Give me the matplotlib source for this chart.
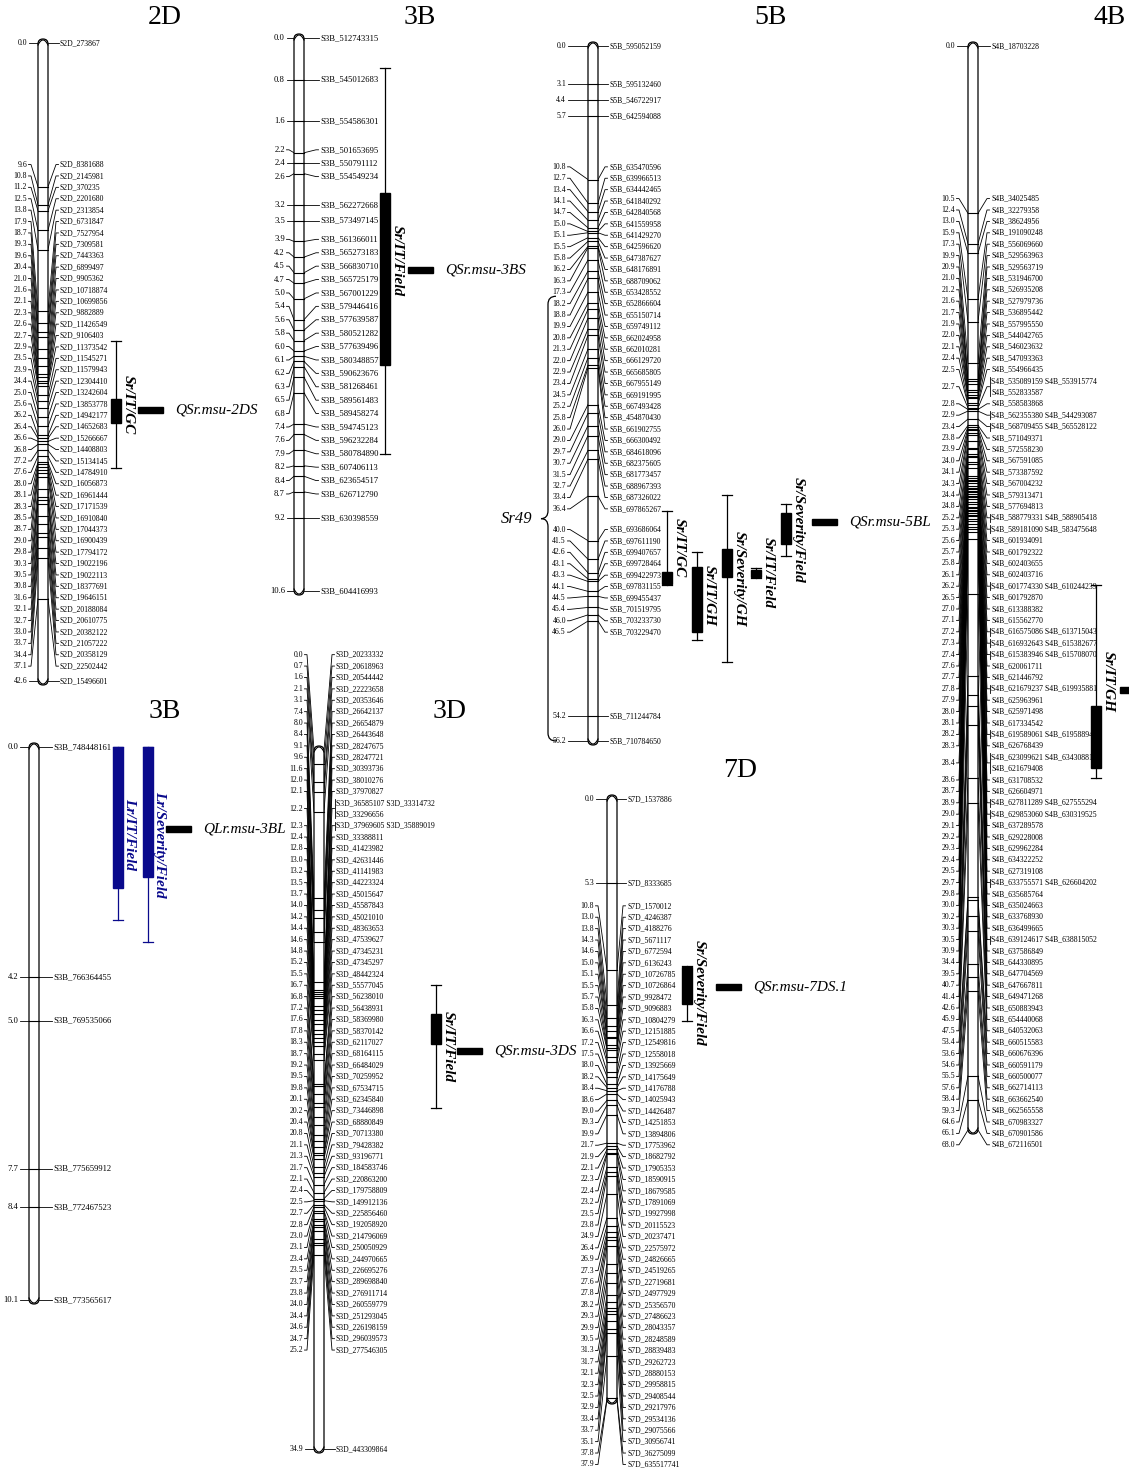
import matplotlib
matplotlib.use("Agg")
import matplotlib.pyplot as plt
from matplotlib.patches import FancyBboxPatch, Rectangle, PathPatch
from matplotlib.path import Path
import numpy as np

plt.rcParams['font.family'] = ['Liberation Serif', 'DejaVu Serif']

# ---------------- data (cM positions, marker names) ----------------
pos_2D = [0.0, 9.6, 10.8, 11.2, 12.5, 13.8, 17.9, 18.7, 19.3, 19.6, 20.4, 21.0, 21.6, 22.1, 22.3,
          22.6, 22.7, 22.9, 23.5, 23.9, 24.4, 25.0, 25.6, 26.2, 26.4, 26.6, 26.8, 27.2, 27.6, 28.0,
          28.1, 28.3, 28.5, 28.7, 29.0, 29.8, 30.3, 30.5, 30.8, 31.6, 32.1, 32.7, 33.0, 33.7, 34.4,
          37.1, 42.6]
mk_2D = ["S2D_273867", "S2D_8381688", "S2D_2145981", "S2D_370235", "S2D_2201680", "S2D_2313854",
         "S2D_6731847", "S2D_7527954", "S2D_7309581", "S2D_7443363", "S2D_6899497", "S2D_9905362",
         "S2D_10718874", "S2D_10699856", "S2D_9882889", "S2D_11426549", "S2D_9106403",
         "S2D_11373542", "S2D_11545271", "S2D_11579943", "S2D_12304410", "S2D_13242604",
         "S2D_13853778", "S2D_14942177", "S2D_14652683", "S2D_15266667", "S2D_14408803",
         "S2D_15134145", "S2D_14784910", "S2D_16056873", "S2D_16961444", "S2D_17171539",
         "S2D_16910840", "S2D_17044373", "S2D_16900439", "S2D_17794172", "S2D_19022196",
         "S2D_19022113", "S2D_18377691", "S2D_19646151", "S2D_20188084", "S2D_20610775",
         "S2D_20382122", "S2D_21057222", "S2D_20358129", "S2D_22502442", "S2D_15496601"]

pos_3BS = [0.0, 0.8, 1.6, 2.2, 2.4, 2.6, 3.2, 3.5, 3.9, 4.2, 4.5, 4.7, 5.0, 5.4, 5.6, 5.8, 6.0,
           6.1, 6.2, 6.3, 6.5, 6.8, 7.4, 7.6, 7.9, 8.2, 8.4, 8.7, 9.2, 10.6]
mk_3BS = ["S3B_512743315", "S3B_545012683", "S3B_554586301", "S3B_501653695", "S3B_550791112",
          "S3B_554549234", "S3B_562272668", "S3B_573497145", "S3B_561366011", "S3B_565273183",
          "S3B_566830710", "S3B_565725179", "S3B_567001229", "S3B_579446416", "S3B_577639587",
          "S3B_580521282", "S3B_577639496", "S3B_580348857", "S3B_590623676", "S3B_581268461",
          "S3B_589561483", "S3B_589458274", "S3B_594745123", "S3B_596232284", "S3B_580784890",
          "S3B_607406113", "S3B_623654517", "S3B_626712790", "S3B_630398559", "S3B_604416993"]

pos_5B = [0.0, 3.1, 4.4, 5.7, 10.8, 12.7, 13.4, 14.1, 14.7, 15.0, 15.1, 15.5, 15.8, 16.2, 16.3,
          17.3, 18.2, 18.8, 19.9, 20.8, 21.3, 22.0, 22.9, 23.4, 24.5, 25.2, 25.8, 26.0, 29.0, 29.7,
          30.7, 31.5, 32.7, 33.4, 36.4, 40.0, 41.5, 42.6, 43.1, 43.3, 44.1, 44.5, 45.4, 46.0, 46.5,
          54.2, 56.2]
mk_5B = ["S5B_595052159", "S5B_595132460", "S5B_546722917", "S5B_642594088", "S5B_635470596",
         "S5B_639966513", "S5B_634442465", "S5B_641840292", "S5B_642840568", "S5B_641559958",
         "S5B_641429270", "S5B_642596620", "S5B_647387627", "S5B_648176891", "S5B_688709062",
         "S5B_653428552", "S5B_652866604", "S5B_655150714", "S5B_659749112", "S5B_662024958",
         "S5B_662010281", "S5B_666129720", "S5B_665685805", "S5B_667955149", "S5B_669191995",
         "S5B_667493428", "S5B_454870430", "S5B_661902755", "S5B_666300492", "S5B_684618096",
         "S5B_682375605", "S5B_681773457", "S5B_688967393", "S5B_687326022", "S5B_697865267",
         "S5B_693686064", "S5B_697611190", "S5B_699407657", "S5B_699728464", "S5B_699422973",
         "S5B_697831155", "S5B_699455437", "S5B_701519795", "S5B_703233730", "S5B_703229470",
         "S5B_711244784", "S5B_710784650"]

pos_4B = [0.0, 10.5, 12.4, 13.0, 15.9, 17.3, 19.9, 20.9, 21.0, 21.2, 21.6, 21.7, 21.9, 22.0, 22.1,
          22.4, 22.5, 22.7, 22.8, 22.9, 23.4, 23.8, 23.9, 24.0, 24.1, 24.3, 24.4, 24.8, 25.2, 25.3,
          25.6, 25.7, 25.8, 26.1, 26.2, 26.5, 27.0, 27.1, 27.2, 27.3, 27.4, 27.6, 27.7, 27.8, 27.9,
          28.0, 28.1, 28.2, 28.3, 28.4, 28.6, 28.7, 28.9, 29.0, 29.1, 29.2, 29.3, 29.4, 29.5, 29.7,
          29.8, 30.0, 30.2, 30.3, 30.5, 30.9, 34.4, 39.5, 40.7, 41.4, 42.6, 45.9, 47.5, 53.4, 53.6,
          54.6, 55.5, 57.6, 58.4, 59.3, 64.6, 66.1, 68.0]
mk_4B = ["S4B_18703228", "S4B_34025485", "S4B_32279358", "S4B_38624956", "S4B_191090248",
         "S4B_556069660", "S4B_529563963", "S4B_529563719", "S4B_531946700", "S4B_526935208",
         "S4B_527979736", "S4B_536895442", "S4B_557995550", "S4B_544042765", "S4B_546023632",
         "S4B_547093363", "S4B_554966435", "S4B_535089159 S4B_553915774;S4B_552833587",
         "S4B_558583868", "S4B_562355380 S4B_544293087", "S4B_568709455 S4B_565528122",
         "S4B_571049371", "S4B_572558230", "S4B_567591085", "S4B_573387592", "S4B_567004232",
         "S4B_579313471", "S4B_577694813", "S4B_588779331 S4B_588905418",
         "S4B_589181090 S4B_583475648", "S4B_601934091", "S4B_601792322", "S4B_602403655",
         "S4B_602403716", "S4B_601774330 S4B_610244239", "S4B_601792870", "S4B_613388382",
         "S4B_615562770", "S4B_616575086 S4B_613715043", "S4B_616932643 S4B_615382677",
         "S4B_615383946 S4B_615708070", "S4B_620061711", "S4B_621446792",
         "S4B_621679237 S4B_619935881", "S4B_625963961", "S4B_625971498", "S4B_617334542",
         "S4B_619589061 S4B_619588944", "S4B_626768439",
         "S4B_623099621 S4B_634308810;S4B_621679408", "S4B_631708532", "S4B_626604971",
         "S4B_627811289 S4B_627555294", "S4B_629853060 S4B_630319525", "S4B_637289578",
         "S4B_629228008", "S4B_629962284", "S4B_634322252", "S4B_627319108",
         "S4B_633755571 S4B_626604202", "S4B_635685764", "S4B_635024663", "S4B_633768930",
         "S4B_636499665", "S4B_639124617 S4B_638815052", "S4B_637586849", "S4B_644330895",
         "S4B_647704569", "S4B_647667811", "S4B_649471268", "S4B_650883943", "S4B_654440068",
         "S4B_640532063", "S4B_660515583", "S4B_660676396", "S4B_660591179", "S4B_660500077",
         "S4B_662714113", "S4B_663662540", "S4B_662565558", "S4B_670983327", "S4B_670901586",
         "S4B_672116501"]

pos_3BL = [0.0, 4.2, 5.0, 7.7, 8.4, 10.1]
mk_3BL = ["S3B_748448161", "S3B_766364455", "S3B_769535066", "S3B_775659912", "S3B_772467523",
          "S3B_773565617"]

pos_3D = [0.0, 0.7, 1.6, 2.1, 3.1, 7.4, 8.0, 8.4, 9.1, 9.6, 11.6, 12.0, 12.1, 12.2, 12.3, 12.4,
          12.8, 13.0, 13.2, 13.5, 13.7, 14.0, 14.2, 14.4, 14.6, 14.8, 15.2, 15.5, 16.7, 16.8, 17.2,
          17.6, 17.8, 18.3, 18.7, 19.2, 19.5, 19.8, 20.1, 20.2, 20.4, 20.8, 21.1, 21.3, 21.7, 22.1,
          22.4, 22.5, 22.7, 22.8, 23.0, 23.1, 23.4, 23.5, 23.7, 23.8, 24.0, 24.4, 24.6, 24.7, 25.2,
          34.9]
mk_3D = ["S3D_20233332", "S3D_20618963", "S3D_20544442", "S3D_22223658", "S3D_20353646",
         "S3D_26642137", "S3D_26654879", "S3D_26443648", "S3D_28247675", "S3D_28247721",
         "S3D_30393736", "S3D_38010276", "S3D_37970827", "S3D_36585107 S3D_33314732;S3D_33296656",
         "S3D_37969605 S3D_35889019", "S3D_33388811", "S3D_41423982", "S3D_42631446",
         "S3D_41141983", "S3D_44223324", "S3D_45015647", "S3D_45587843", "S3D_45021010",
         "S3D_48363653", "S3D_47539627", "S3D_47345231", "S3D_47345297", "S3D_48442324",
         "S3D_55577045", "S3D_56238010", "S3D_56438931", "S3D_58369980", "S3D_58370142",
         "S3D_62117027", "S3D_68164115", "S3D_66484029", "S3D_70259952", "S3D_67534715",
         "S3D_62345840", "S3D_73446898", "S3D_68880849", "S3D_70713380", "S3D_79428382",
         "S3D_93196771", "S3D_184583746", "S3D_220863200", "S3D_179758809", "S3D_149912136",
         "S3D_225856460", "S3D_192058920", "S3D_214796069", "S3D_250050929", "S3D_244970665",
         "S3D_226695276", "S3D_289698840", "S3D_276911714", "S3D_260559779", "S3D_251293045",
         "S3D_226198159", "S3D_296039573", "S3D_277546305", "S3D_443309864"]

pos_7D = [0.0, 5.3, 10.8, 13.0, 13.8, 14.3, 14.6, 15.0, 15.1, 15.5, 15.7, 15.8, 16.3, 16.6, 17.2,
          17.5, 18.0, 18.2, 18.4, 18.6, 19.0, 19.3, 19.9, 21.7, 21.9, 22.1, 22.3, 22.4, 23.2, 23.5,
          23.8, 24.9, 26.4, 26.9, 27.3, 27.6, 27.8, 28.2, 29.3, 29.9, 30.5, 31.3, 31.7, 32.1, 32.3,
          32.5, 32.9, 33.4, 33.7, 35.1, 37.8, 37.9]
mk_7D = ["S7D_1537886", "S7D_8333685", "S7D_1570012", "S7D_4246387", "S7D_4188276",
         "S7D_5671117", "S7D_6772594", "S7D_6136243", "S7D_10726785", "S7D_10726864",
         "S7D_9928472", "S7D_9096883", "S7D_10804279", "S7D_12151885", "S7D_12549816",
         "S7D_12558018", "S7D_13925669", "S7D_14175649", "S7D_14176788", "S7D_14025943",
         "S7D_14426487", "S7D_14251853", "S7D_13894806", "S7D_17753962", "S7D_18682792",
         "S7D_17905353", "S7D_18590915", "S7D_18679585", "S7D_17891069", "S7D_19927998",
         "S7D_20115523", "S7D_20237471", "S7D_22575972", "S7D_24826665", "S7D_24519265",
         "S7D_22719681", "S7D_24977929", "S7D_25356570", "S7D_27486623", "S7D_28043357",
         "S7D_28248589", "S7D_28839483", "S7D_29262723", "S7D_28880153", "S7D_29958815",
         "S7D_29408544", "S7D_29217976", "S7D_29534136", "S7D_29075566", "S7D_30956741",
         "S7D_36275099", "S7D_635517741"]

# QTL intervals in cM: (trait, whisker low, bar low, bar high, whisker high)
qtl_2D = [("Sr/IT/GC", 19.9, 23.8, 25.4, 28.4)]
qtl_3BS = [("Sr/IT/Field", 0.58, 2.97, 6.27, 7.97)]
qtl_5B = [("Sr/IT/GC", 37.6, 42.5, 43.5, 43.6),
          ("Sr/IT/GH", 40.9, 42.1, 47.4, 48.0),
          ("Sr/Severity/GH", 36.3, 40.7, 42.9, 49.8),
          ("Sr/IT/Field", 42.2, 42.4, 42.9, 43.0),
          ("Sr/Severity/Field", 37.0, 37.8, 40.3, 41.2)]
qtl_4B = [("Sr/IT/GH", 33.8, 41.4, 45.3, 45.9)]
qtl_3BL = [("Lr/IT/Field", 0.0, 0.0, 2.58, 3.16),
           ("Lr/Severity/Field", 0.0, 0.0, 2.37, 3.56)]
qtl_3D = [("Sr/IT/Field", 11.73, 13.18, 14.68, 17.87)]
qtl_7D = [("Sr/Severity/Field", 10.5, 10.6, 12.9, 14.0)]

qtl_names = ["QSr.msu-2DS", "QSr.msu-3BS", "QSr.msu-5BL", "QLr.msu-3BL", "QSr.msu-3DS",
             "QSr.msu-7DS.1"]


def spread(desired, sizes, gap, centre="mid"):
    # labels are taken from the bottom up; a label that collides with the group
    # below joins it. A packed group is centred either between the loci of its
    # first and last marker ("mid") or on the mean of its loci ("mean").
    n = len(desired)
    sep = np.zeros(n)
    for i in range(1, n):
        sep[i] = (sizes[i - 1] + sizes[i]) / 2 * gap
    s = np.cumsum(sep)
    z = np.asarray(desired, float) - s
    if centre == "mid":
        val = lambda b: (z[b[0]] + z[b[1]]) / 2
    else:
        val = lambda b: z[b[0]:b[1] + 1].mean()
    blocks = []
    for i in reversed(range(n)):
        blocks.append([i, i])
        while len(blocks) > 1 and val(blocks[-1]) > val(blocks[-2]):
            top = blocks.pop()
            blocks[-1][0] = top[0]
    out = np.empty(n)
    for b in blocks:
        out[b[0]:b[1] + 1] = val(b)
    return out + s


def draw_chrom(ax, pos, mk, cx, y0, y1, num_x, name_x, fs=5.6, gap=11.4, w=10, centre="mid"):
    pos = np.asarray(pos)
    scale = lambda p: y0 + (np.asarray(p) - pos[0]) / (pos[-1] - pos[0]) * (y1 - y0)
    yt = scale(pos)
    r = w / 2
    body = FancyBboxPatch((cx - r, y0 - 4), w, (y1 - y0) + 8,
                          boxstyle=f"round,pad=0,rounding_size={r}",
                          fc="white", ec="black", lw=0.9, zorder=2)
    ax.add_patch(body)
    for y in yt[1:-1]:
        ax.plot([cx - r, cx + r], [y, y], color="black", lw=0.8, zorder=3)
    # end markers drawn as small arcs following the rounded caps
    u = np.linspace(-1, 1, 30)
    ax.plot(cx + u * r, yt[0] + 2 - 5 * (1 - u ** 2), color="black", lw=0.8, zorder=3)
    ax.plot(cx + u * r, yt[-1] - 2 + 5 * (1 - u ** 2), color="black", lw=0.8, zorder=3)
    rows = [m.split(";") for m in mk]
    sizes = [len(rr) for rr in rows]
    lab = spread(yt, sizes, gap, centre)
    for p, y, c, rr in zip(pos, yt, lab, rows):
        ax.text(num_x, c, f"{p:.1f}", ha="right", va="center", fontsize=fs, zorder=4)
        ax.plot([num_x + 1.5, num_x + 4, cx - r], [c, c, y], color="black", lw=0.6, zorder=1)
        ax.plot([cx + r, name_x - 4, name_x - 1.5], [y, c, c], color="black", lw=0.6, zorder=1)
        k = len(rr)
        for j, t in enumerate(rr):
            ax.text(name_x, c + (j - (k - 1) / 2) * gap, t, ha="left", va="center",
                    fontsize=fs, zorder=4)
        if k > 1 or " " in rr[0]:
            ax.plot([name_x - 1.5, name_x - 1.5],
                    [c - (k - 1) / 2 * gap - 4, c + (k - 1) / 2 * gap + 4],
                    color="black", lw=0.6)
    return scale, lab


def draw_qtl(ax, scale, x, q, color="black", w=10, fs=11):
    name, wl, bl, bh, wh = q
    ya, yb = scale(wl), scale(wh)
    ax.plot([x, x], [ya, yb], color=color, lw=0.9, zorder=3)
    for yy in (ya, yb):
        ax.plot([x - 5, x + 5], [yy, yy], color=color, lw=0.9, zorder=3)
    b0, b1 = scale(bl), scale(bh)
    ax.add_patch(Rectangle((x - w / 2, b0), w, max(b1 - b0, 3), fc=color, ec=color, zorder=4))
    ax.text(x + 12, (ya + yb) / 2, name, rotation=-90, ha="center", va="center",
            fontsize=fs, style="italic", fontweight="bold", color=color)


def qtl_tag(ax, x, y, text):
    ax.add_patch(Rectangle((x, y - 3), 25, 6, fc="black", ec="black"))
    ax.text(x + 37, y, text, ha="left", va="center", fontsize=11, style="italic")


fig = plt.figure(figsize=(11.29, 14.69), dpi=100)
ax = fig.add_axes([0, 0, 1, 1])
ax.set_xlim(0, 1129)
ax.set_ylim(1469, 0)
ax.axis("off")

# 2D
sc, _ = draw_chrom(ax, pos_2D, mk_2D, 43, 43, 681, 27, 60, centre="mean")
draw_qtl(ax, sc, 116, qtl_2D[0])
qtl_tag(ax, 138, 410, qtl_names[0])

# 3B (short arm)
sc, _ = draw_chrom(ax, pos_3BS, mk_3BS, 299, 38, 591, 285, 320, fs=6.2, gap=13.4)
draw_qtl(ax, sc, 385, qtl_3BS[0])
qtl_tag(ax, 408, 270, qtl_names[1])

# 5B
sc, lab = draw_chrom(ax, pos_5B, mk_5B, 593, 46, 741, 566, 609)
xs = [667, 697, 727, 756, 786]
for x, q in zip(xs, qtl_5B):
    draw_qtl(ax, sc, x, q)
qtl_tag(ax, 812, 522, qtl_names[2])
# Sr49 brace over labels 17.3 .. 56.2
yt_b, yb_b = lab[pos_5B.index(17.3)] + 4, lab[-1]
ym = (yt_b + yb_b) / 2
xr, xm, xl = 556, 548, 541
verts = [(xr, yt_b), (xm, yt_b), (xm, yt_b + 8), (xm, ym - 8), (xm, ym), (xl, ym),
         (xm, ym), (xm, ym + 8), (xm, yb_b - 8), (xm, yb_b), (xr, yb_b)]
codes = [Path.MOVETO, Path.CURVE3, Path.CURVE3, Path.LINETO, Path.CURVE3, Path.CURVE3,
         Path.CURVE3, Path.CURVE3, Path.LINETO, Path.CURVE3, Path.CURVE3]
ax.add_patch(PathPatch(Path(verts, codes), fc="none", ec="black", lw=0.9))
ax.text(532, ym, "Sr49", ha="right", va="center", fontsize=12, style="italic")

# 4B
sc, _ = draw_chrom(ax, pos_4B, mk_4B, 973, 46, 1130, 955, 991)
draw_qtl(ax, sc, 1096, qtl_4B[0])
ax.add_patch(Rectangle((1120, 687), 20, 6, fc="black", ec="black"))

# 3B (long arm)
sc, _ = draw_chrom(ax, pos_3BL, mk_3BL, 34, 747, 1300, 18, 53, fs=6.2, gap=13.4)
for x, q in zip([118, 148], qtl_3BL):
    draw_qtl(ax, sc, x, q, color="#0a0a8c")
qtl_tag(ax, 166, 829, qtl_names[3])

# 3D
sc, _ = draw_chrom(ax, pos_3D, mk_3D, 319, 750, 1449, 303, 336)
draw_qtl(ax, sc, 436, qtl_3D[0])
qtl_tag(ax, 457, 1051, qtl_names[4])

# 7D
sc, _ = draw_chrom(ax, pos_7D, mk_7D, 612, 799, 1400, 594, 627)
draw_qtl(ax, sc, 687, qtl_7D[0])
qtl_tag(ax, 716, 987, qtl_names[5])

for t, x, y in [("2D", 165, 17), ("3B", 420, 17), ("5B", 770, 17), ("4B", 1110, 17),
                ("3B", 165, 711), ("3D", 450, 711), ("7D", 740, 770)]:
    ax.text(x, y, t, ha="center", va="center", fontsize=20)

fig.savefig("out.png", dpi=100)
